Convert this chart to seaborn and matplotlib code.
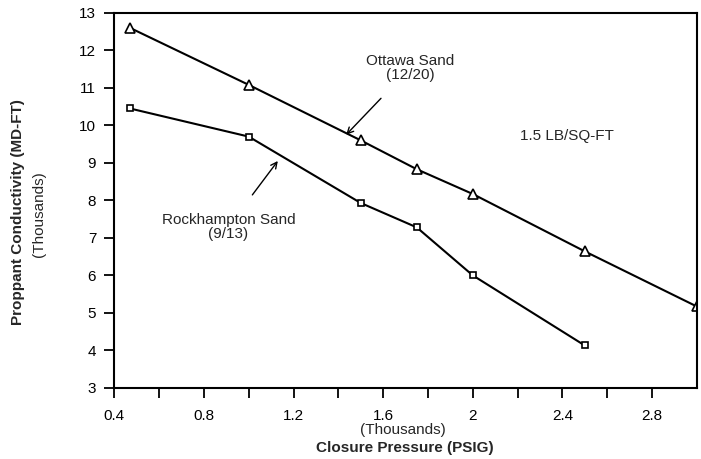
import numpy as np
import pandas as pd
import matplotlib
matplotlib.use("Agg")
import matplotlib.pyplot as plt
import seaborn as sns

# Closure pressure (thousands of psig) and proppant conductivity (thousands of md-ft)
ottawa_pressure = [0.47, 1.0, 1.5, 1.75, 2.0, 2.5, 3.0]
ottawa_conductivity = [12.6, 11.08, 9.6, 8.83, 8.17, 6.64, 5.17]
rock_pressure = [0.47, 1.0, 1.5, 1.75, 2.0, 2.5]
rock_conductivity = [10.45, 9.7, 7.93, 7.28, 6.0, 4.13]

x_ticks = [0.4, 0.8, 1.2, 1.6, 2.0, 2.4, 2.8]
x_tick_labels = ["0.4", "0.8", "1.2", "1.6", "2", "2.4", "2.8"]
y_ticks = [3, 4, 5, 6, 7, 8, 9, 10, 11, 12, 13]

FS = 11

sns.set_style("ticks")
plt.rcParams["font.family"] = ["Liberation Sans", "DejaVu Sans"]

df = pd.concat([
    pd.DataFrame({"pressure": ottawa_pressure, "conductivity": ottawa_conductivity,
                  "sand": "Ottawa"}),
    pd.DataFrame({"pressure": rock_pressure, "conductivity": rock_conductivity,
                  "sand": "Rockhampton"}),
])

fig = plt.figure(figsize=(7.01, 4.59), dpi=100)
ax = fig.add_axes([0.163, 0.155, 0.831, 0.817])

sns.lineplot(data=df, x="pressure", y="conductivity", hue="sand", style="sand",
             palette={"Ottawa": "black", "Rockhampton": "black"},
             markers={"Ottawa": "^", "Rockhampton": "s"},
             dashes=False, markersize=7, linewidth=1.5, legend=False, ax=ax,
             markerfacecolor="white", markeredgecolor="black", markeredgewidth=1.2)
# smaller square markers for Rockhampton
for line in ax.get_lines():
    if line.get_marker() == "s":
        line.set_markersize(4.5)

ax.set_xlim(0.4, 3.0)
ax.set_ylim(3, 13)
ax.set_xticks(x_ticks)
ax.set_xticklabels(x_tick_labels)
ax.set_xticks(np.arange(0.6, 3.0, 0.4), minor=True)
ax.set_yticks(y_ticks)
ax.tick_params(axis="both", which="both", direction="out", length=7, width=1.3,
               labelsize=FS, colors="black")
ax.tick_params(axis="x", which="major", pad=8)
ax.tick_params(axis="y", which="major", pad=6)
for s in ax.spines.values():
    s.set_visible(True)
    s.set_linewidth(1.5)
    s.set_color("black")

ax.set_xlabel("")
ax.set_ylabel("")
fig.text(0.026, 0.538, "Proppant Conductivity (MD-FT)", rotation=90, ha="center",
         va="center", fontsize=FS, fontweight="bold")
fig.text(0.055, 0.534, "(Thousands)", rotation=90, ha="center", va="center",
         fontsize=FS)
fig.text(0.578, 0.024, "Closure Pressure (PSIG)", ha="center", va="center",
         fontsize=FS, fontweight="bold")
fig.text(0.575, 0.063, "(Thousands)", ha="center", va="center", fontsize=FS)

ax.annotate("Ottawa Sand\n(12/20)", xy=(1.435, 9.75), xytext=(1.72, 11.53),
            ha="center", va="center", fontsize=FS, linespacing=1.0,
            arrowprops=dict(arrowstyle="->", color="black", lw=1.0,
                            shrinkA=13, shrinkB=0))
ax.annotate("Rockhampton Sand\n(9/13)", xy=(1.13, 9.05), xytext=(0.91, 7.3),
            ha="center", va="center", fontsize=FS, linespacing=1.0,
            arrowprops=dict(arrowstyle="->", color="black", lw=1.0,
                            shrinkA=13, shrinkB=0))
ax.text(2.42, 9.72, "1.5 LB/SQ-FT", ha="center", va="center", fontsize=FS)

fig.savefig("out.png", dpi=100)
